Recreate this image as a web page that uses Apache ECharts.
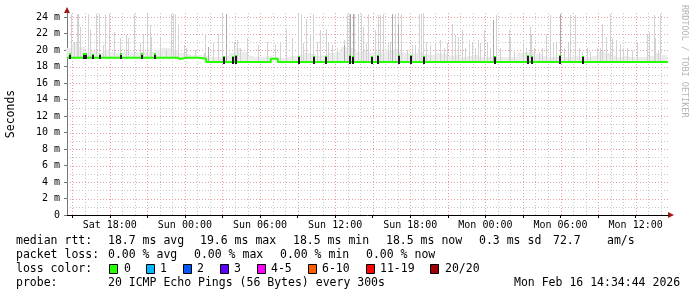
<!DOCTYPE html>
<html><head><meta charset="utf-8">
<script src="https://cdn.jsdelivr.net/npm/echarts@6/dist/echarts.min.js"></script>
<style>html,body{margin:0;padding:0;background:#fff}#c{width:697px;height:297px}</style>
</head><body><div id="c"></div>
<script>
// ---- axis / tick data (hours counted from Sat 00:00) ----
const startHour = 14.583;
const endHour = 62.583;
const yMax = 24.5;
const xLabelHours = [18, 24, 30, 36, 42, 48, 54, 60];
const xLabelTexts = ['Sat 18:00', 'Sun 00:00', 'Sun 06:00', 'Sun 12:00', 'Sun 18:00', 'Mon 00:00', 'Mon 06:00', 'Mon 12:00'];
const xMajorGrid = [15, 18, 21, 24, 27, 30, 33, 36, 39, 42, 45, 48, 51, 54, 57, 60];
const xMinorGrid = [16, 17, 19, 20, 22, 23, 25, 26, 28, 29, 31, 32, 34, 35, 37, 38, 40, 41, 43, 44, 46, 47, 49, 50, 52, 53, 55, 56, 58, 59, 61, 62];
const yLabelValues = [0, 2, 4, 6, 8, 10, 12, 14, 16, 18, 20, 22, 24];
const yMajorGrid = [2, 4, 6, 8, 10, 12, 14, 16, 18, 20, 22, 24];
const yMinorGrid = [1, 3, 5, 7, 9, 11, 13, 15, 17, 19, 21, 23];

// ---- median rtt (ms), step segments ----
const medianTimes  = [14.583, 23.46, 23.62, 24.10, 24.22, 25.06, 25.70, 30.86, 31.42, 62.583];
const medianValues = [19.05, 18.90, 19.05, 18.90, 19.05, 18.95, 18.55, 18.95, 18.55, 18.55];

// ---- median spikes (ms) ----
const spikeTimes = [14.82, 15.94, 16.10, 16.66, 17.22, 18.90, 20.58, 21.62, 27.14, 27.86, 28.10, 33.14, 34.34, 35.30, 37.22, 37.46, 38.98, 39.46, 41.06, 42.02, 43.06, 48.74, 51.38, 51.70, 53.94, 55.78];
const spikeTops  = [19.6, 19.6, 19.6, 19.5, 19.5, 19.6, 19.6, 19.6, 19.3, 19.3, 19.4, 19.3, 19.3, 19.3, 19.4, 19.3, 19.3, 19.4, 19.4, 19.4, 19.3, 19.3, 19.4, 19.3, 19.4, 19.3];

// ---- smoke: low dense part, one value per half hour from 14.5 h ----
const lowSmokeStart = 14.5;
const lowSmokeTops = [20.2, 20.8, 20.4, 19.8, 19.9, 19.6, 20.0, 19.7, 19.6, 19.8, 19.7, 19.6, 19.8, 19.7, 20.0, 20.2,
  20.3, 20.0, 19.6, 19.5, 19.4, 19.4, 19.3, 19.1, 19.2, 19.3, 19.6, 20.2, 19.8, 19.3, 19.1, 19.2,
  19.3, 19.2, 19.0, 19.1, 19.3, 19.4, 19.6, 19.5, 19.3, 19.4, 19.6, 19.7, 20.4, 20.2, 19.8, 19.9,
  19.6, 19.8, 19.7, 20.0, 20.1, 19.8, 19.6, 19.5, 19.7, 19.5, 19.4, 19.6, 19.5, 19.3, 19.4, 19.2,
  19.3, 19.4, 19.2, 19.1, 19.3, 19.2, 19.1, 19.2, 19.6, 19.7, 19.8, 19.5, 19.3, 19.2, 19.1, 19.2,
  19.1, 19.3, 19.1, 19.2, 19.3, 19.8, 19.6, 19.3, 19.2, 19.3, 19.2, 19.1, 19.2, 19.3, 19.6, 19.4];

// ---- smoke: individual high pings ----
const smokeTimes = [14.96, 15.20, 15.41, 15.54, 15.70, 16.29, 16.42, 16.96, 17.14, 17.49, 17.62, 17.97, 18.34, 18.82, 19.36, 19.49, 19.94, 20.42, 20.69, 21.01, 21.22, 21.33, 22.02, 22.56, 22.96, 23.09, 23.28, 23.49, 23.94, 24.16, 24.82, 25.57, 25.62, 25.86,
  26.29, 26.69, 26.98, 27.30, 27.94, 28.18, 28.42, 28.96, 29.89, 30.56, 31.22, 31.62, 32.10, 32.56, 33.09, 33.30, 33.49, 33.70, 34.02, 34.24, 34.56, 34.82, 35.30, 35.49, 35.76, 36.16, 36.74, 36.96, 37.14,
  37.22, 37.44, 37.54, 37.89, 38.08, 38.29, 38.50, 38.69, 39.22, 39.49, 39.62, 39.84, 40.29, 40.42, 40.58, 40.82, 41.06, 41.30, 41.76, 42.16, 42.42, 42.74, 42.90, 43.04, 43.30, 43.62, 44.02, 44.42, 44.74, 44.96, 45.36, 45.62, 45.89, 46.16, 46.42, 46.69, 46.96, 47.22, 47.41, 47.62, 47.94, 48.16,
  48.37, 48.64, 48.90, 49.17, 49.89, 50.02, 50.34, 51.04, 51.30, 51.57, 51.68, 51.94, 52.29, 52.56, 52.90, 53.17, 53.44, 53.70, 53.97, 54.29, 54.61, 54.82, 55.22, 55.49, 55.76, 56.16, 56.42, 56.96, 57.22, 57.36, 57.70, 58.00, 58.16, 58.45, 58.80, 59.04, 59.36, 59.76, 60.16, 60.96, 61.09, 61.49, 61.62, 61.80, 62.02];
const smokeTops = [24.4, 21.0, 24.4, 24.4, 22.8, 24.4, 22.4, 24.4, 24.4, 20.6, 24.4, 24.4, 22.2, 21.4, 21.8, 21.4, 24.4, 20.8, 22.0, 24.4, 23.0, 21.6, 21.4, 20.0, 24.4, 24.4, 24.4, 23.2, 20.6, 20.2, 20.0, 19.6, 22.0, 20.0,
  20.8, 22.0, 24.4, 24.4, 21.0, 21.2, 20.2, 21.5, 20.6, 21.0, 20.6, 21.0, 22.6, 21.5, 24.4, 24.4, 20.8, 23.8, 22.0, 24.4, 21.0, 22.4, 22.6, 20.8, 20.6, 20.2, 21.2, 24.4, 24.4,
  24.4, 24.4, 24.4, 24.4, 24.4, 22.8, 20.8, 24.4, 22.4, 24.2, 24.2, 24.4, 21.0, 21.0, 24.4, 24.4, 24.4, 24.4, 20.0, 20.6, 20.6, 24.4, 24.4, 24.4, 21.0, 20.6, 20.8, 21.2, 20.2, 20.8, 23.2, 21.8, 21.6, 22.4, 20.2, 21.2, 20.8, 20.2, 21.2, 20.8, 22.4, 20.8,
  20.2, 23.6, 24.2, 20.2, 22.4, 21.4, 19.8, 21.0, 20.2, 22.8, 22.0, 20.2, 19.8, 20.2, 22.0, 24.2, 21.0, 20.8, 24.4, 20.2, 20.8, 24.2, 24.2, 20.2, 19.8, 20.2, 19.8, 20.2, 20.2, 23.2, 21.6, 24.4, 21.4, 21.2, 20.7, 20.2, 20.2, 20.0, 20.8, 22.0, 22.2, 24.2, 21.4, 20.0, 24.4];
// darker (denser) smoke columns
const darkSmokeTimes = [25.86, 27.30, 36.74, 37.22, 37.44, 40.58, 41.06, 48.64, 53.97];
const darkSmokeTops  = [20.4, 24.4, 20.6, 24.4, 24.4, 24.4, 23.0, 23.6, 24.4];

// ---- legend ----
const lossLabels = ['0', '1', '2', '3', '4-5', '6-10', '11-19', '20/20'];
const lossColors = ['#26ff00', '#00b8ff', '#0059ff', '#5e00ff', '#ff00ff', '#ff5e00', '#ff0000', '#a10000'];
const rttLine = [['median rtt:', 16], ['18.7 ms avg', 108], ['19.6 ms max', 200], ['18.5 ms min', 293], ['18.5 ms now', 386], ['0.3 ms sd', 479], ['72.7', 553], ['am/s', 607]];
const lossLine = [['packet loss:', 16], ['0.00 % avg', 108], ['0.00 % max', 194], ['0.00 % min', 280], ['0.00 % now', 366]];
const lossBoxX = [109, 146, 183, 220, 257, 308, 366, 430];
const lossTextX = [124, 160, 197, 234, 271, 322, 380, 445];
const probeLine = [['probe:', 16], ['20 ICMP Echo Pings (56 Bytes) every 300s', 108], ['Mon Feb 16 14:34:44 2026', 514]];

const MONO = '"DejaVu Sans Mono", monospace';
const LEG_FS = 11.5;

function medianAt(h) {
  let v = medianValues[0];
  for (let i = 0; i < medianTimes.length; i++) if (medianTimes[i] <= h) v = medianValues[i];
  return v;
}

function rectItem(color, w) {
  return function (params, api) {
    const h = api.value(0), lo = api.value(1), hi = Math.min(api.value(2), yMax);
    const p1 = api.coord([h, lo]), p2 = api.coord([h, hi]);
    const x = Math.round(p1[0] - w / 2);
    return { type: 'rect', shape: { x: x, y: Math.round(p2[1]), width: w, height: Math.round(p1[1]) - Math.round(p2[1]) }, style: { fill: color } };
  };
}

const lowSmokeData = lowSmokeTops.map((v, i) => [lowSmokeStart + i * 0.5, medianAt(lowSmokeStart + i * 0.5 + 0.25) - 0.05, v]);
const smokeData = smokeTimes.map((t, i) => [t, medianAt(t), smokeTops[i]]);
const darkSmokeData = darkSmokeTimes.map((t, i) => [t, medianAt(t), darkSmokeTops[i]]);
const spikeData = spikeTimes.map((t, i) => [t, medianAt(t) - 0.2, spikeTops[i]]);
const capData = spikeTimes.map((t, i) => [t, spikeTops[i] - 0.15, spikeTops[i]]);

const medianData = medianTimes.map((t, i) => [t, medianValues[i]]);

const chart = echarts.init(document.getElementById('c'), null, { renderer: 'canvas' });

const graphics = [];
function txt(s, x, y, extra) {
  graphics.push(Object.assign({ type: 'text', x: x, y: y, silent: true,
    style: { text: s, font: LEG_FS + 'px ' + MONO, fill: '#000', textVerticalAlign: 'middle', textAlign: 'left' } }, extra || {}));
}
rttLine.forEach(s => txt(s[0], s[1], 241));
lossLine.forEach(s => txt(s[0], s[1], 255));
txt('loss color:', 16, 269);
lossLabels.forEach((l, i) => {
  graphics.push({ type: 'rect', shape: { x: lossBoxX[i] + 0.5, y: 264.5, width: 8, height: 9 }, style: { fill: lossColors[i], stroke: '#000', lineWidth: 1 }, silent: true });
  txt(l, lossTextX[i], 269);
});
probeLine.forEach(s => txt(s[0], s[1], 283));
// watermark
graphics.push({ type: 'text', x: 684, y: 5, rotation: -Math.PI / 2, silent: true,
  style: { text: 'RRDTOOL / TOBI OETIKER', font: '8.5px ' + MONO, fill: '#b4b4b4', textAlign: 'left', textVerticalAlign: 'middle' } });
// axis arrows
graphics.push({ type: 'polygon', shape: { points: [[668, 212], [674, 215], [668, 218]] }, style: { fill: '#a01818' }, silent: true });
graphics.push({ type: 'polygon', shape: { points: [[64, 13], [67, 7], [70, 13]] }, style: { fill: '#a01818' }, silent: true });

const option = {
  animation: false,
  backgroundColor: '#ffffff',
  grid: { left: 67, right: 29, top: 297 - 82 - yMax * 8.25, bottom: 82, containLabel: false, outerBoundsMode: 'none' },
  xAxis: {
    type: 'value', min: startHour, max: endHour,
    splitLine: { show: false },
    axisLine: { show: true, lineStyle: { color: '#000', width: 1 } },
    axisTick: { show: true, customValues: xMajorGrid, length: 3, lineStyle: { color: '#000' } },
    axisLabel: {
      customValues: xLabelHours, margin: 5,
      formatter: function (v) { const i = xLabelHours.indexOf(Math.round(v)); return i >= 0 && Math.abs(v - xLabelHours[i]) < 0.01 ? xLabelTexts[i] : ''; },
      fontFamily: MONO, fontSize: 10, color: '#000'
    }
  },
  yAxis: {
    type: 'value', min: 0, max: yMax,
    name: 'Seconds', nameLocation: 'middle', nameGap: 50, nameRotate: 90,
    nameTextStyle: { fontFamily: MONO, fontSize: 11.5, color: '#000' },
    splitLine: { show: false },
    axisLine: { show: true, lineStyle: { color: '#777', width: 1 } },
    axisTick: { show: true, customValues: yLabelValues, length: 3, lineStyle: { color: '#777' } },
    axisLabel: {
      customValues: yLabelValues, margin: 7,
      formatter: function (v) { return v === 0 ? '0' : (v % 2 === 0 ? v + ' m' : ''); },
      fontFamily: MONO, fontSize: 10, color: '#000'
    }
  },
  graphic: graphics,
  series: [
    { type: 'custom', name: 'vgridMinor', silent: true, z: 0, encode: { x: 0, y: 1 },
      data: xMinorGrid.map(h => [h, 0]),
      renderItem: function (p, api) { const a = api.coord([api.value(0), 0]), b = api.coord([api.value(0), yMax]); const x = Math.round(a[0]) + 0.5;
        return { type: 'line', shape: { x1: x, y1: a[1], x2: x, y2: b[1] }, style: { stroke: '#c8c8c8', lineWidth: 1, lineDash: [1, 2] } }; } },
    { type: 'custom', name: 'hgridMinor', silent: true, z: 0, encode: { x: 0, y: 1 },
      data: yMinorGrid.map(v => [startHour, v]),
      renderItem: function (p, api) { const a = api.coord([startHour, api.value(1)]), b = api.coord([endHour, api.value(1)]); const y = Math.round(a[1]) + 0.5;
        return { type: 'line', shape: { x1: a[0], y1: y, x2: b[0], y2: y }, style: { stroke: '#c8c8c8', lineWidth: 1, lineDash: [1, 2] } }; } },
    { type: 'custom', name: 'vgridMajor', silent: true, z: 0, encode: { x: 0, y: 1 },
      data: xMajorGrid.map(h => [h, 0]),
      renderItem: function (p, api) { const a = api.coord([api.value(0), 0]), b = api.coord([api.value(0), yMax]); const x = Math.round(a[0]) + 0.5;
        return { type: 'line', shape: { x1: x, y1: a[1], x2: x, y2: b[1] }, style: { stroke: '#e8a0a0', lineWidth: 1, lineDash: [1, 2] } }; } },
    { type: 'custom', name: 'hgridMajor', silent: true, z: 0, encode: { x: 0, y: 1 },
      data: yMajorGrid.map(v => [startHour, v]),
      renderItem: function (p, api) { const a = api.coord([startHour, api.value(1)]), b = api.coord([endHour, api.value(1)]); const y = Math.round(a[1]) + 0.5;
        return { type: 'line', shape: { x1: a[0], y1: y, x2: b[0], y2: y }, style: { stroke: '#e8a0a0', lineWidth: 1, lineDash: [1, 2] } }; } },
    { type: 'custom', name: 'lowSmoke', silent: true, z: 1, encode: { x: 0, y: [1, 2] }, data: lowSmokeData,
      renderItem: function (p, api) { const a = api.coord([api.value(0), api.value(1)]), b = api.coord([api.value(0) + 0.5, api.value(2)]);
        return { type: 'rect', shape: { x: Math.round(a[0]), y: Math.round(b[1]), width: Math.round(b[0]) - Math.round(a[0]), height: Math.round(a[1]) - Math.round(b[1]) }, style: { fill: '#ececec' } }; } },
    { type: 'custom', name: 'smoke', silent: true, z: 2, encode: { x: 0, y: [1, 2] }, data: smokeData, renderItem: rectItem('#d2d2d2', 1) },
    { type: 'custom', name: 'darkSmoke', silent: true, z: 3, encode: { x: 0, y: [1, 2] }, data: darkSmokeData, renderItem: rectItem('#a8a8a8', 1) },
    { type: 'line', name: 'median rtt', z: 4, data: medianData, step: 'end', symbol: 'none', lineStyle: { color: '#26ff00', width: 2 } },
    { type: 'custom', name: 'medianSpike', silent: true, z: 5, encode: { x: 0, y: [1, 2] }, data: spikeData, renderItem: rectItem('#1a1a1a', 2) },
    { type: 'custom', name: 'medianCap', silent: true, z: 6, encode: { x: 0, y: [1, 2] }, data: capData, renderItem: rectItem('#26ff00', 2) }
  ]
};
chart.setOption(option);
</script>
</body></html>
